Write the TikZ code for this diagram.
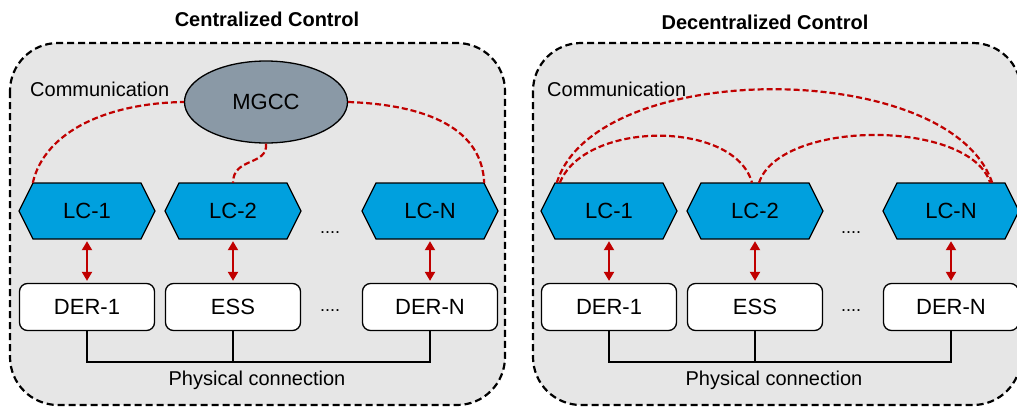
\documentclass[tikz,border=0pt]{standalone}
\usepackage{fontspec}
\setmainfont{Liberation Sans}
\usetikzlibrary{arrows.meta,shapes.geometric}
\definecolor{panelbg}{RGB}{230,230,230}
\definecolor{lcblue}{RGB}{0,160,222}
\definecolor{mgccgray}{RGB}{138,153,166}
\definecolor{commred}{RGB}{192,0,0}
\tikzset{
  panel/.style={draw=black, fill=panelbg, line width=2.2pt, dash pattern=on 7pt off 4pt, rounded corners=48pt},
  lctext/.style={minimum width=136pt, minimum height=56pt, inner sep=0pt, font=\fontsize{22}{26}\selectfont},
  hexshape/.style={fill=lcblue, draw=black, line width=1.3pt},
  derbox/.style={draw=black, fill=white, line width=1.3pt, rounded corners=8pt, minimum width=135pt, minimum height=47pt, inner sep=0pt, font=\fontsize{22}{26}\selectfont},
  mgccnode/.style={ellipse, draw=black, fill=mgccgray, line width=1.3pt, minimum width=163pt, minimum height=82pt, inner sep=0pt, font=\fontsize{22}{26}\selectfont},
  titletext/.style={font=\fontsize{20}{24}\selectfont\bfseries},
  labeltext/.style={font=\fontsize{20}{24}\selectfont, inner sep=0pt},
  dotstext/.style={font=\fontsize{18}{22}\selectfont, inner sep=0pt},
  redarrow/.style={draw=commred, line width=2pt, {Triangle[width=10pt,length=9pt]}-{Triangle[width=10pt,length=9pt]}, shorten <=2pt, shorten >=2pt},
  commline/.style={draw=commred, line width=2.2pt, dash pattern=on 6pt off 3pt},
  phys/.style={draw=black, line width=2.4pt},
}
\newcommand{\lchex}[4]{%
  \draw[hexshape] (#2-68,#3) -- (#2-54,#3-28) -- (#2+54,#3-28) -- (#2+68,#3) -- (#2+54,#3+28) -- (#2-54,#3+28) -- cycle;
  \node[lctext] (#1) at (#2,#3) {#4};
}
\begin{document}
\begin{tikzpicture}[x=1pt,y=-1pt]
\useasboundingbox (0,0) rectangle (1017,410);
\clip (0,0) rectangle (1017,410);
\fill[white] (0,0) rectangle (1017,410);

% ---------- Centralized ----------
\node[titletext] (t1) at (267,19) {Centralized Control};
\draw[panel] (10,43) rectangle (505,405);
\node[labeltext, anchor=west] (comm1) at (30,89) {Communication};
\node[mgccnode] (mgcc) at (266,102) {MGCC};

\lchex{lcA}{87}{211}{LC-1}
\lchex{lcB}{233}{211}{LC-2}
\lchex{lcC}{430}{211}{LC-N}

\node[derbox] (dA) at (87,307) {DER-1};
\node[derbox] (dB) at (233,307) {ESS};
\node[derbox] (dC) at (430,307) {DER-N};

\node[dotstext] (dots1) at (330,233) {....};
\node[dotstext] (dots2) at (330,311) {....};

\draw[redarrow] (lcA.south) -- (dA.north);
\draw[redarrow] (lcB.south) -- (dB.north);
\draw[redarrow] (lcC.south) -- (dC.north);

\draw[commline] ([xshift=14pt]lcA.north west) .. controls (45,130) and (110,103) .. (mgcc.west);
\draw[commline] (mgcc.east) .. controls (430,105) and (482,130) .. ([xshift=-14pt]lcC.north east);
\draw[commline] (mgcc.south) .. controls (268,166) and (233,157) .. (lcB.north);

\coordinate (busA) at (87,362);
\coordinate (busB) at (233,362);
\coordinate (busC) at (430,362);
\draw[phys] (dA.south) -- (busA) -- (busC) -- (dC.south);
\draw[phys] (dB.south) -- (busB);
\node[labeltext] (phys1) at (257,380) {Physical connection};

% ---------- Decentralized ----------
\node[titletext] (t2) at (765,22) {Decentralized Control};
\draw[panel] (533,43) rectangle (1021,405);
\node[labeltext, anchor=west] (comm2) at (547,89) {Communication};

\lchex{lcD}{609}{211}{LC-1}
\lchex{lcE}{755}{211}{LC-2}
\lchex{lcF}{951}{211}{LC-N}

\node[derbox] (dD) at (609,307) {DER-1};
\node[derbox] (dE) at (755,307) {ESS};
\node[derbox] (dF) at (951,307) {DER-N};

\node[dotstext] (dots3) at (851,233) {....};
\node[dotstext] (dots4) at (851,311) {....};

\draw[redarrow] (lcD.south) -- (dD.north);
\draw[redarrow] (lcE.south) -- (dE.north);
\draw[redarrow] (lcF.south) -- (dF.north);

\draw[commline] ([xshift=16pt]lcD.north west) .. controls (595,58) and (950,58) .. ([xshift=-27pt]lcF.north east);
\draw[commline] ([xshift=19pt]lcD.north west) .. controls (585,120) and (735,120) .. ([xshift=-3pt]lcE.north);
\draw[commline] ([xshift=4pt]lcE.north) .. controls (780,119) and (970,119) .. ([xshift=-29pt]lcF.north east);

\coordinate (busD) at (609,362);
\coordinate (busE) at (755,362);
\coordinate (busF) at (951,362);
\draw[phys] (dD.south) -- (busD) -- (busF) -- (dF.south);
\draw[phys] (dE.south) -- (busE);
\node[labeltext] (phys2) at (774,380) {Physical connection};
\end{tikzpicture}
\end{document}
